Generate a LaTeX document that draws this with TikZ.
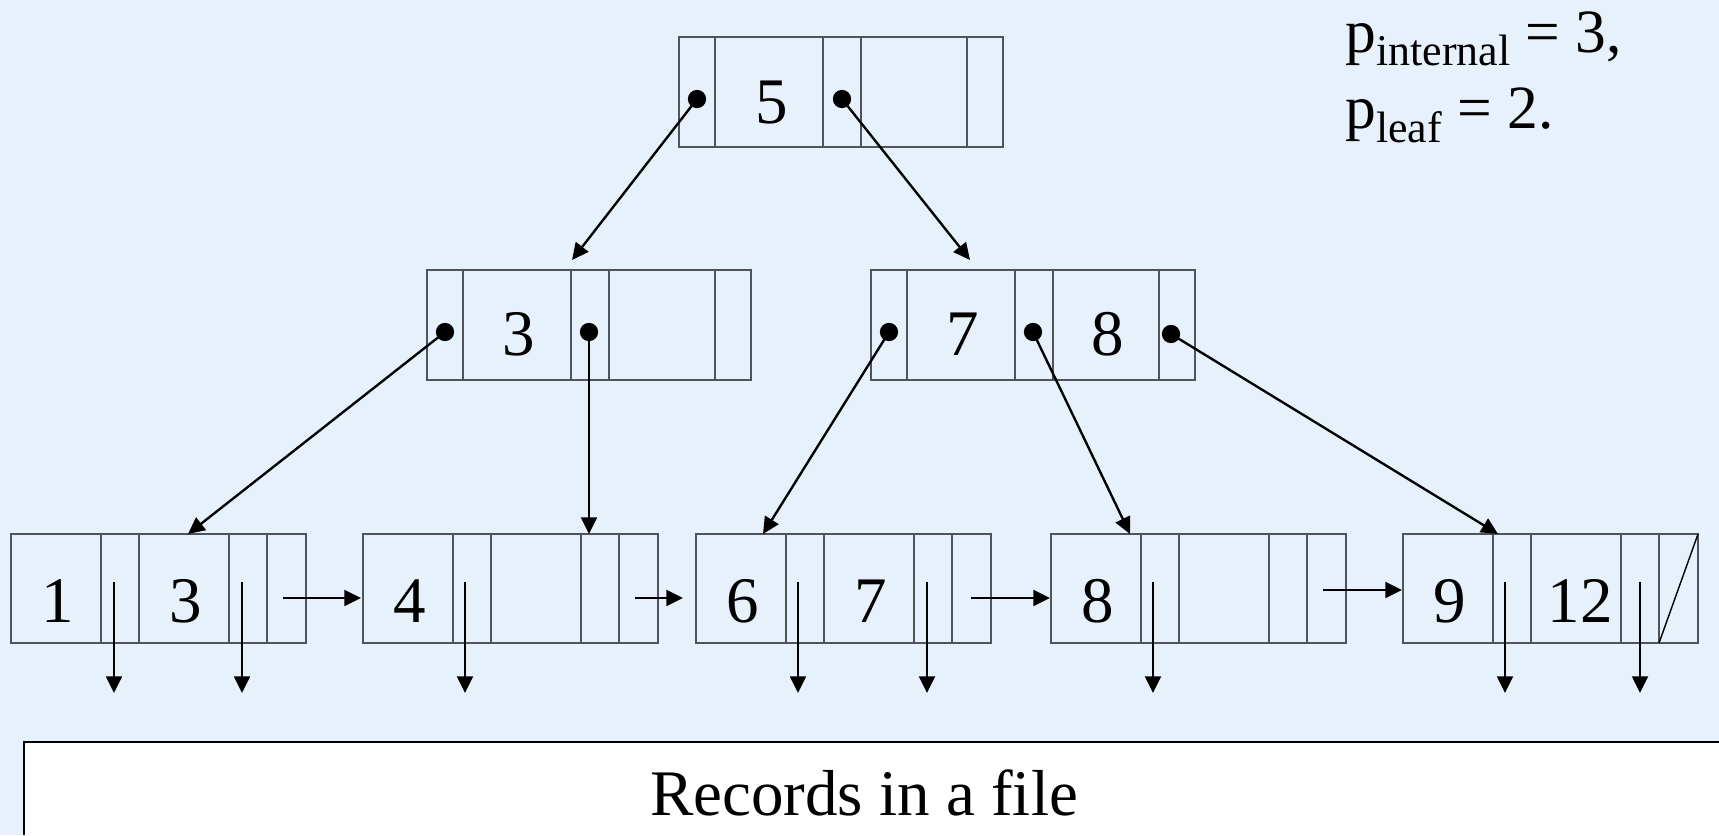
\documentclass[tikz,border=0pt]{standalone}
\usepackage{fontspec}
\setmainfont{Liberation Serif}
\usetikzlibrary{arrows.meta}
\definecolor{PaleBlue}{RGB}{231,241,251}
\definecolor{CellGray}{RGB}{80,84,90}

\begin{document}
\begin{tikzpicture}[x=0.02cm,y=-0.02cm,
  cell/.style={CellGray, line width=0.7pt},
  key/.style={anchor=base, inner sep=0pt, font=\fontsize{37}{37}\selectfont},
  ptr/.style={line width=1.35pt, -{Triangle[length=9.5pt,width=9pt]}},
  sub/.style={font=\fontsize{25}{25}\selectfont}]
\fill[PaleBlue] (0,0) rectangle (1719,835);
\useasboundingbox (0,0) rectangle (1719,835);

% internal nodes and leaves
\foreach \x/\y in {679/37, 427/270, 871/270} {
  \draw[cell] (\x,\y) rectangle ++(324,110);
  \foreach \d in {36,144,182,288} \draw[cell] (\x+\d,\y) -- ++(0,110);
}
\foreach \x in {11,363,696,1051,1403} {
  \draw[cell] (\x,534) rectangle ++(295,109);
  \foreach \d in {90,128,218,256} \draw[cell] (\x+\d,534) -- ++(0,109);
}
\draw[black, line width=0.8pt] (1659,643) -- (1698,534);

% keys
\node[key] (k5) at (772,123) {5};
\node[key] (k3) at (519,355) {3};
\node[key] (k7) at (963,355) {7};
\node[key] (k8) at (1108,355) {8};
\node[key] (l1) at (58,622) {1};
\node[key] (l3) at (186,622) {3};
\node[key] (l4) at (410,622) {4};
\node[key] (l6) at (743,622) {6};
\node[key] (l7) at (871,622) {7};
\node[key] (l8) at (1098,622) {8};
\node[key] (l9) at (1450,622) {9};
\node[key] (l12) at (1580,622) {12};

% tree pointers
\coordinate (rootA) at (697,99);   \coordinate (rootB) at (842,99);
\coordinate (leftA) at (445,332);  \coordinate (leftB) at (589,332);
\coordinate (rightA) at (889,332); \coordinate (rightB) at (1033,332);
\coordinate (rightC) at (1171,334);
\coordinate (toLeft) at (572,260);  \coordinate (toRight) at (970,260);
\coordinate (toLeaf1) at (188,534); \coordinate (toLeaf2) at (589,534);
\coordinate (toLeaf3) at (763,534); \coordinate (toLeaf4) at (1130,534);
\coordinate (toLeaf5) at (1498,534);
\foreach \a/\b in {rootA/toLeft, rootB/toRight, leftA/toLeaf1, leftB/toLeaf2,
    rightA/toLeaf3, rightB/toLeaf4, rightC/toLeaf5} {
  \fill (\a) circle[radius=5.2pt];
  \draw[ptr] (\a) -- (\b);
}

% record pointers and leaf chain
\foreach \x in {114,242,465,798,927,1153,1505,1640}
  \draw[ptr] (\x,582) -- (\x,693);
\draw[ptr] (283,598) -- (361,598);
\draw[ptr] (635,598) -- (683,598);
\draw[ptr] (971,598) -- (1050,598);
\draw[ptr] (1323,590) -- (1402,590);

% file
\fill[white] (24,742) rectangle (1719,835);
\draw[line width=1.4pt] (1719,742) -- (24,742) -- (24,835);
\node[anchor=base, inner sep=0pt, font=\fontsize{37}{37}\selectfont] (file) at (864,815) {Records in a file};

\node[anchor=base west, inner sep=0pt, font=\fontsize{35}{35}\selectfont] (pint) at (1345,52)
  {p\raisebox{-7.4pt}{\fontsize{25}{25}\selectfont internal} = 3,};
\node[anchor=base west, inner sep=0pt, font=\fontsize{35}{35}\selectfont] (pleaf) at (1345,128)
  {p\raisebox{-8pt}{\fontsize{25}{25}\selectfont leaf} = 2.};
\end{tikzpicture}
\end{document}
